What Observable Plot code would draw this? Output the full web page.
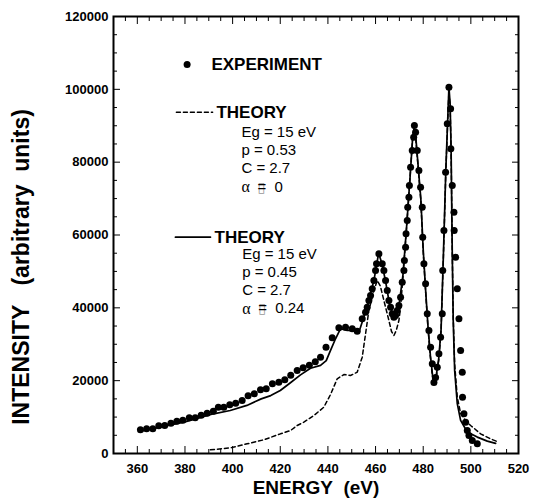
<!DOCTYPE html>
<html>
<head>
<meta charset="utf-8">
<script src="https://cdn.jsdelivr.net/npm/d3@7"></script>
<script src="https://cdn.jsdelivr.net/npm/@observablehq/plot@0.6"></script>
<style>
  body { margin: 0; background: #fff; }
</style>
</head>
<body>
<div id="chart"></div>
<script>
// ---------- DATA ----------
const expEnergy = [361.3,363.9,366.5,369.0,371.5,374.1,376.6,379.1,381.8,384.3,386.8,389.3,391.9,394.0,396.3,398.8,401.3,404.0,406.5,409.1,411.7,414.1,416.7,419.4,421.9,424.4,427.1,429.6,432.2,434.7,436.9,439.2,441.8,444.6,447.4,450.2,452.3,454.4,455.8,456.5,457.2,457.9,458.6,459.3,460.0,460.4,461.4,462.8,463.5,464.2,464.9,465.6,466.3,467.0,467.7,468.4,469.1,469.8,470.5,471.2,471.9,472.1,472.6,472.8,473.3,473.5,474.0,474.2,474.7,475.4,476.0,476.3,476.8,477.5,478.2,478.9,479.6,479.8,480.3,481.0,481.7,482.4,483.1,483.8,484.5,485.2,485.9,486.6,487.3,488.0,488.2,488.7,489.4,490.1,490.8,491.5,491.6,492.2,492.9,493.0,493.6,494.3,495.0,495.7,496.4,496.5,497.1,497.8,498.5,499.2,500.6,502.7];
const expIntensity = [6500,6780,6780,7600,7690,8330,8870,9150,9800,9800,10520,11070,11620,12720,12720,13370,13820,14550,15840,16390,17490,17770,19140,19590,20230,21500,22790,23530,24250,25170,26440,29200,31770,34520,34680,34240,33580,36990,38800,40170,42010,43390,45220,47510,50250,52090,54840,52090,50250,47510,44760,42010,40170,38360,37430,37900,39270,40640,42920,47040,50250,53000,56650,60320,63980,67630,70380,73590,78620,83200,86860,90070,88230,83200,77710,73130,67630,59400,52090,46600,38360,33780,29190,24630,19500,20900,23700,27380,31940,38360,50250,61240,77250,90530,100590,94650,83670,73590,66260,61240,53900,45220,36990,28280,22330,15460,10900,8600,6320,4940,3570,2660];

// dashed theory: Eg = 15 eV, p = 0.53, C = 2.7, alpha = 0
const theoryAEnergy = [390.7,399.1,406.1,413.1,420.1,424.3,427.1,429.9,434.1,438.3,441.1,443.9,446.7,449.5,452.3,454.4,455.8,457.2,459.3,460.7,462.0,463.5,465.6,466.7,467.7,468.7,469.8,470.5,471.5,473.0,474.5,475.5,476.2,477.0,478.0,479.0,480.0,481.0,482.0,483.0,484.0,484.7,485.5,486.5,487.5,488.5,489.5,490.3,490.8,491.3,491.7,492.2,492.6,493.2,494.3,495.7,497.8,499.9,504.1,508.3,511.0];
const theoryAIntensity = [1000,1560,2660,3760,5400,6300,7700,8600,10430,12720,16200,20510,21690,21420,22330,26440,32870,39270,44760,47500,46000,42010,36520,33500,32400,33800,36520,40170,48500,62000,76000,86000,89000,85500,77500,69500,55500,44500,34500,26500,20500,19300,21000,25500,33500,54500,77500,91500,99500,95000,83500,55500,37500,24500,15500,11000,9000,7700,5400,4000,3300];

// solid theory: Eg = 15 eV, p = 0.45, C = 2.7, alpha = 0.24
const theoryBEnergy = [362.0,370.0,380.0,392.0,399.0,406.0,412.0,416.0,420.0,424.0,428.5,432.7,436.9,439.3,441.1,443.2,445.3,448.1,450.9,453.0,454.4,456.5,459.3,461.0,461.4,462.5,464.0,466.0,467.5,468.5,470.0,471.5,473.0,474.5,475.5,476.2,477.0,478.0,479.0,480.0,481.0,482.0,483.0,484.0,484.7,485.5,486.5,487.5,488.5,489.5,490.3,490.8,491.3,491.7,492.2,492.6,493.2,494.3,495.7,498.5,502.7,506.9,510.4];
const theoryBIntensity = [6200,7300,8700,10900,11800,13200,15000,15900,17300,19300,21600,23400,24200,25500,28300,31500,34300,33800,33800,33300,36100,40600,47500,53900,54800,52500,48000,40500,37800,38300,41500,49000,62000,76000,86000,89500,86000,78000,70000,56000,45000,35000,27000,21000,19800,21500,26000,34000,55000,78000,92000,100600,96000,84000,55000,36500,22800,13700,9100,5900,4500,3400,2800];

const xTickValues = [360,380,400,420,440,460,480,500,520];
const yTickValues = [0,20000,40000,60000,80000,100000,120000];

const xTitle = "ENERGY\u00a0\u00a0(eV)";
const yTitle = "INTENSITY\u00a0\u00a0\u00a0(arbitrary\u00a0\u00a0units)";
const legendExperiment = "EXPERIMENT";
const legendTheory = "THEORY";
const theoryALines = ["Eg = 15 eV", "p = 0.53", "C = 2.7"];
const theoryBLines = ["Eg = 15 eV", "p = 0.45", "C = 2.7"];
const alphaSymbol = "\u03b1";
const alphaRelation = "=";
const alphaA = "0";
const alphaB = "0.24";

// ---------- build tables ----------
const experiment = expEnergy.map((e, i) => ({energy: e, intensity: expIntensity[i]}));
const theoryA = theoryAEnergy.map((e, i) => ({energy: e, intensity: theoryAIntensity[i]}));
const theoryB = theoryBEnergy.map((e, i) => ({energy: e, intensity: theoryBIntensity[i]}));

const xMinor = d3.range(350, 521, 5).filter(v => v % 20 !== 0);
const yMinor = d3.range(0, 120001, 5000).filter(v => v % 20000 !== 0);

const font = "'Liberation Sans', Arial, Helvetica, sans-serif";

// legend layout (in data coordinates)
const legA = [{energy: 376.4, intensity: 93720}, {energy: 391.6, intensity: 93720}];
const legB = [{energy: 376.0, intensity: 59400}, {energy: 390.7, intensity: 59400}];
const legAText = theoryALines.map((t, i) => ({t, energy: 403.7, intensity: [88230, 83400, 78450][i]}));
const legBText = theoryBLines.map((t, i) => ({t, energy: 404.0, intensity: [54650, 49700, 44760][i]}));
const alphaRows = [
  {energy: 403.7, intensity: 73130, value: alphaA},
  {energy: 404.0, intensity: 39820, value: alphaB}
];

const chart = Plot.plot({
  width: 534,
  height: 502,
  marginLeft: 113,
  marginRight: 16,
  marginTop: 16,
  marginBottom: 49,
  style: {fontFamily: font, background: "#fff", color: "#000"},
  x: {domain: [350, 520]},
  y: {domain: [0, 120000]},
  marks: [
    // inward ticks on all four sides
    Plot.axisX({ticks: xMinor, anchor: "bottom", tickSize: -4, fill: "none", label: null}),
    Plot.axisX({ticks: xTickValues, anchor: "bottom", tickSize: -7, fill: "none", label: null}),
    Plot.axisX({ticks: xMinor, anchor: "top", tickSize: -4, fill: "none", label: null}),
    Plot.axisX({ticks: xTickValues, anchor: "top", tickSize: -7, fill: "none", label: null}),
    Plot.axisY({ticks: yMinor, anchor: "left", tickSize: -4, fill: "none", label: null}),
    Plot.axisY({ticks: yTickValues, anchor: "left", tickSize: -7, fill: "none", label: null}),
    Plot.axisY({ticks: yMinor, anchor: "right", tickSize: -4, fill: "none", label: null}),
    Plot.axisY({ticks: yTickValues, anchor: "right", tickSize: -7, fill: "none", label: null}),
    // tick labels
    Plot.axisX({ticks: xTickValues, anchor: "bottom", tickSize: 0, tickPadding: 10, fontSize: 13, fontWeight: "bold", label: null}),
    Plot.axisY({ticks: yTickValues, anchor: "left", tickSize: 0, tickPadding: 5, fontSize: 13, fontWeight: "bold", label: null, tickFormat: d3.format("d")}),
    Plot.frame({stroke: "#000", strokeWidth: 2}),
    // axis titles
    Plot.text([xTitle], {frameAnchor: "bottom", dy: 40, fontSize: 19, fontWeight: "bold", text: d => d}),
    Plot.text([yTitle], {frameAnchor: "left", dx: -92, dy: 32, rotate: -90, textAnchor: "middle", fontSize: 23, fontWeight: "bold", text: d => d}),
    // data
    Plot.line(theoryA, {x: "energy", y: "intensity", stroke: "#000", strokeWidth: 1.5, strokeDasharray: "4,3"}),
    Plot.line(theoryB, {x: "energy", y: "intensity", stroke: "#000", strokeWidth: 1.7}),
    Plot.dot(experiment, {x: "energy", y: "intensity", r: 3.5, fill: "#000", stroke: "none"}),
    // legend
    Plot.dot([{energy: 380.9, intensity: 106820}], {x: "energy", y: "intensity", r: 3.5, fill: "#000", stroke: "none"}),
    Plot.text([legendExperiment], {x: () => 391.1, y: () => 106820, text: d => d, textAnchor: "start", fontSize: 17, fontWeight: "bold"}),
    Plot.line(legA, {x: "energy", y: "intensity", stroke: "#000", strokeWidth: 1.5, strokeDasharray: "4,3"}),
    Plot.text([legendTheory], {x: () => 393.2, y: () => 93720, text: d => d, textAnchor: "start", fontSize: 17, fontWeight: "bold"}),
    Plot.text(legAText, {x: "energy", y: "intensity", text: "t", textAnchor: "start", fontSize: 15}),
    Plot.line(legB, {x: "energy", y: "intensity", stroke: "#000", strokeWidth: 1.7}),
    Plot.text([legendTheory], {x: () => 392.4, y: () => 59400, text: d => d, textAnchor: "start", fontSize: 17, fontWeight: "bold"}),
    Plot.text(legBText, {x: "energy", y: "intensity", text: "t", textAnchor: "start", fontSize: 15}),
    // alpha rows: symbol, boxed relation, value
    Plot.text(alphaRows, {x: "energy", y: "intensity", text: () => alphaSymbol, textAnchor: "start", fontSize: 16, fontFamily: "'Liberation Serif', 'DejaVu Serif', serif"}),
    Plot.text(alphaRows, {x: "energy", y: "intensity", text: () => "\u25AF", dx: 16, textAnchor: "start", fontSize: 14, fill: "#999", fontFamily: "'DejaVu Sans', sans-serif"}),
    Plot.text(alphaRows, {x: "energy", y: "intensity", text: () => alphaRelation, dx: 16, textAnchor: "start", fontSize: 15}),
    Plot.text(alphaRows, {x: "energy", y: "intensity", text: "value", dx: 33, textAnchor: "start", fontSize: 15})
  ]
});
document.getElementById("chart").appendChild(chart);
</script>
</body>
</html>
